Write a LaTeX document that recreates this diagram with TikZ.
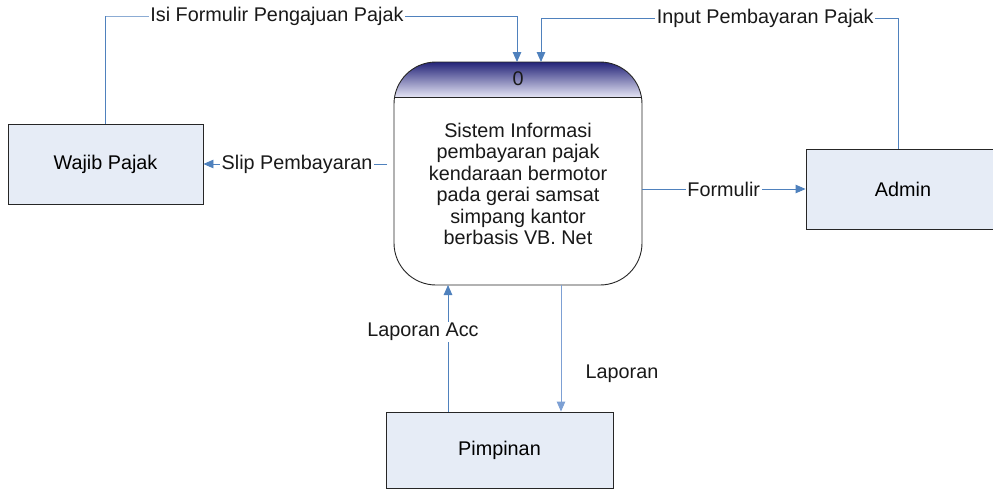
\documentclass[tikz,border=0pt]{standalone}
\usepackage{fontspec}
\setmainfont{Liberation Sans}
\usetikzlibrary{arrows.meta,positioning}
\definecolor{flow}{RGB}{79,129,189}
\definecolor{flowlight}{RGB}{125,160,212}
\definecolor{entfill}{RGB}{230,236,246}
\definecolor{hdtop}{RGB}{35,35,120}
\definecolor{hdmid}{RGB}{95,95,175}
\definecolor{hdbot}{RGB}{228,228,244}
\tikzset{
  ent/.style={draw=black!85, line width=0.9pt, fill=entfill, font=\fontsize{19.8}{21.4}\selectfont, align=center},
  flowline/.style={draw=flow, line width=0.9pt},
  arr/.style={flowline, -{Triangle[length=10pt,width=8.5pt]}},
  lbl/.style={fill=white, inner sep=1.5pt, font=\fontsize{19.8}{21.4}\selectfont, text=black!90},
  txt/.style={inner sep=0pt, font=\fontsize{19.8}{21.4}\selectfont, text=black!90, align=center}
}
\begin{document}
\begin{tikzpicture}[x=1pt,y=-1pt]
\useasboundingbox (0,0) rectangle (993,488);
\clip (0,0) rectangle (993,488);
\fill[white] (0,0) rectangle (993,488);
% entities
\node[ent, minimum width=195pt, minimum height=80pt, inner sep=0pt] (wp) at (105.5,164) {Wajib Pajak};
\node[ent, minimum width=194pt, minimum height=80pt, inner sep=0pt] (ad) at (903,189) {Admin};
\node[ent, minimum width=227pt, minimum height=76pt, inner sep=0pt] (pm) at (499.5,450) {Pimpinan};
% process
\begin{scope}
  \clip[rounded corners=42pt] (394,62) rectangle (642,285);
  \shade[top color=hdtop, middle color=hdmid, bottom color=hdbot] (394,62) rectangle (642,97);
\end{scope}
\draw[black!85, line width=0.9pt, rounded corners=42pt] (394,62) rectangle (642,285);
\draw[black!85, line width=0.9pt] (394,97) -- (642,97);
\node[txt] (pnum) at (518,79) {0};
\node[txt] (ptxt) at (518,184) {Sistem Informasi\\pembayaran pajak\\kendaraan bermotor\\pada gerai samsat\\simpang kantor\\berbasis VB. Net};
\coordinate (pin1) at (517,62);
\coordinate (pin2) at (541,62);
\coordinate (pleft) at (387,164);
\coordinate (pright) at (642,189);
\coordinate (pb1) at (448,285);
\coordinate (pb2) at (561,285);
% flows
\draw[arr] (wp.north) |- (106,16) -| (pin1)
  node[lbl, pos=0.208] {Isi Formulir Pengajuan Pajak};
\draw[arr] (ad.north -| 898,0) |- (898,18) -| (pin2)
  node[lbl, pos=0.186] {Input Pembayaran Pajak};
\draw[arr] (pleft) -- (wp.east) node[lbl, pos=0.49] {Slip Pembayaran};
\draw[arr] (pright) -- (ad.west) node[lbl, pos=0.5] {Formulir};
\draw[arr] (pm.north -| pb1) -- (pb1);
\node[lbl] (acclbl) at (423,332) {Laporan Acc};
\draw[flowline, draw=flowlight, -{Triangle[length=10pt,width=8.5pt]}] (pb2) -- (pm.north -| pb2);
\node[txt] (laplbl) at (622,374) {Laporan};
\end{tikzpicture}
\end{document}
